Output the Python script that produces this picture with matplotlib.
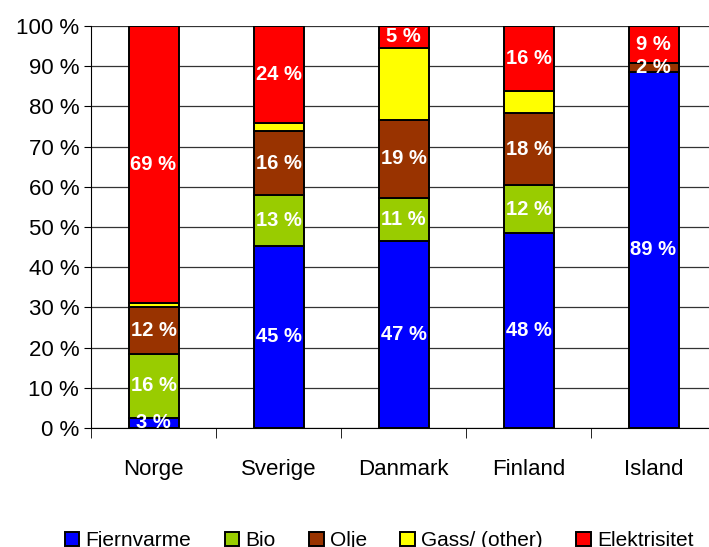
import numpy as np
import matplotlib.pyplot as plt

land = ["Norge", "Sverige", "Danmark", "Finland", "Island"]
serier = ["Fjernvarme", "Bio", "Olje", "Gass/ (other)", "Elektrisitet"]
fjernvarme = [2.6, 45.3, 46.6, 48.5, 88.6]
bio = [15.9, 12.6, 10.7, 11.9, 0.0]
olje = [11.7, 16.0, 19.3, 18.0, 2.2]
gass = [0.8, 2.0, 18.0, 5.4, 0.0]
elektrisitet = [69.0, 24.1, 5.4, 16.2, 9.2]

farger = ["#0000ff", "#99cc00", "#993300", "#ffff00", "#ff0000"]
vis_tekst = [True, True, True, False, True]

plt.rcParams['font.family'] = ['Liberation Sans Narrow', 'Liberation Sans', 'DejaVu Sans']

fig = plt.figure(figsize=(7.09, 5.47), dpi=100)
ax = fig.add_axes([91 / 709, 1 - 428 / 547, 625 / 709, 402 / 547])

x = np.arange(len(land))
bunn = np.zeros(len(land))
for navn, verdier, farge, tekst in zip(serier, [fjernvarme, bio, olje, gass, elektrisitet], farger, vis_tekst):
    v = np.array(verdier)
    ax.bar(x, v, 0.4, bottom=bunn, color=farge, edgecolor="black", linewidth=1.4, label=navn, zorder=3)
    if tekst:
        for xi, b, h in zip(x, bunn, v):
            if h > 0:
                ax.text(xi, b + h / 2, "%d %%" % round(h), ha="center", va="center",
                        color="white", fontsize=14.5, fontweight="bold", zorder=4)
    bunn += v

ax.set_xlim(-0.5, len(land) - 0.5)
ax.set_ylim(0, 100)
ax.set_yticks(np.arange(0, 101, 10))
ax.set_yticklabels(["%d %%" % t for t in range(0, 101, 10)], fontsize=16)
ax.set_xticks(x)
ax.set_xticklabels(land, fontsize=16)
ax.set_xticks(np.arange(-0.5, len(land), 1), minor=True)
ax.tick_params(axis="x", which="major", length=0, pad=22)
ax.tick_params(axis="x", which="minor", length=7, direction="out")
ax.tick_params(axis="y", length=5, direction="out")
ax.grid(axis="y", color="#333333", linewidth=0.9, zorder=0)
for s in ["top", "right"]:
    ax.spines[s].set_visible(False)

fig.legend(loc="lower left", bbox_to_anchor=(0.065, -0.04), ncol=5, frameon=False,
           fontsize=15, handlelength=0.7, handleheight=0.7, handletextpad=0.3, columnspacing=1.6)

fig.savefig("out.png", dpi=100)
